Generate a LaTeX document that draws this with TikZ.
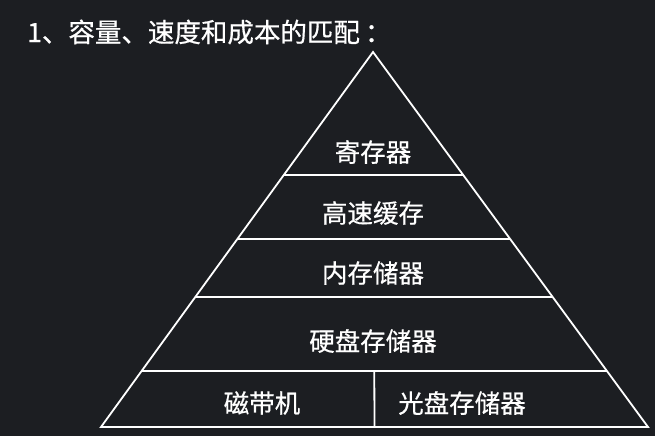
\documentclass[tikz,border=0pt]{standalone}
\usepackage{fontspec}
\setmainfont{Noto Sans CJK SC}[BoldFont={Noto Sans CJK SC},BoldFeatures={FakeBold=0.6}]
\usetikzlibrary{calc}
\definecolor{slidebg}{HTML}{1C1E22}

\begin{document}
\begin{tikzpicture}[x=1pt,y=-1pt,line width=1.8pt,
  level/.style={text=white,font=\fontsize{25.5}{25.5}\selectfont\bfseries}]
\fill[slidebg] (0,0) rectangle (655,436);
\coordinate (top) at (373,52);
\coordinate (bl) at (101,427);
\coordinate (br) at (648,427);
% pyramid
\draw[white,line join=miter] (top) -- (bl) -- (br) -- cycle;
\draw[white] ($(top)!0.328!(bl)$) -- ($(top)!0.328!(br)$);
\draw[white] ($(top)!0.499!(bl)$) -- ($(top)!0.499!(br)$);
\draw[white] ($(top)!0.653!(bl)$) -- ($(top)!0.653!(br)$);
\coordinate (l4) at ($(top)!0.851!(bl)$);
\coordinate (r4) at ($(top)!0.851!(br)$);
\draw[white] (l4) -- (r4);
\draw[white] ($(l4)!0.5!(r4)$) -- ($(bl)!0.5!(br)$);
% labels
\node[level,font=\fontsize{26.5}{26.5}\selectfont\bfseries,anchor=west] (title) at (23,32) {1、容量、速度和成本的匹配\kern5pt：};
\node[level] (reg) at (373,152) {寄存器};
\node[level] (cache) at (373,213) {高速缓存};
\node[level] (mem) at (373,273) {内存储器};
\node[level] (disk) at (373,341) {硬盘存储器};
\node[level] (tape) at (262,403) {磁带机};
\node[level] (optical) at (462,403) {光盘存储器};
\end{tikzpicture}
\end{document}
